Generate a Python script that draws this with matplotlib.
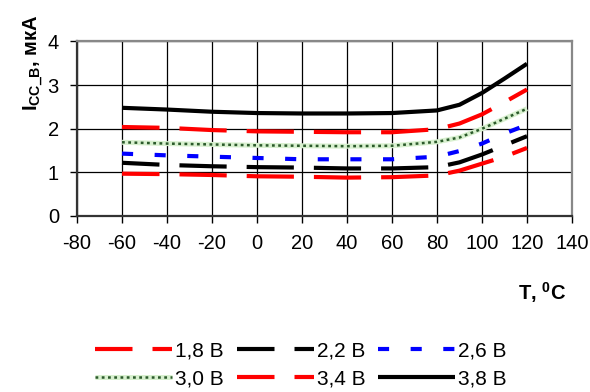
import matplotlib
matplotlib.use('Agg')
import matplotlib.pyplot as plt
from matplotlib.legend_handler import HandlerTuple

plt.rcParams['font.family'] = ['Liberation Sans', 'DejaVu Sans']
plt.rcParams['mathtext.fontset'] = 'custom'
plt.rcParams['mathtext.rm'] = 'Liberation Sans'
plt.rcParams['mathtext.bf'] = 'Liberation Sans:bold'
plt.rcParams['lines.scale_dashes'] = False
plt.rcParams['axes.unicode_minus'] = False

# Data
temps = [-60, -40, -20, 0, 20, 40, 60, 80, 90, 100, 110, 120]
i_18 = [0.97, 0.96, 0.94, 0.91, 0.90, 0.88, 0.89, 0.93, 1.04, 1.20, 1.36, 1.56]
i_22 = [1.22, 1.17, 1.14, 1.12, 1.11, 1.09, 1.09, 1.12, 1.23, 1.41, 1.62, 1.83]
i_26 = [1.43, 1.39, 1.36, 1.33, 1.30, 1.30, 1.30, 1.36, 1.49, 1.66, 1.89, 2.09]
i_30 = [1.69, 1.66, 1.64, 1.62, 1.61, 1.60, 1.61, 1.70, 1.80, 2.00, 2.23, 2.46]
i_34 = [2.04, 2.02, 1.97, 1.94, 1.93, 1.92, 1.92, 1.99, 2.12, 2.33, 2.61, 2.90]
i_38 = [2.48, 2.44, 2.39, 2.36, 2.35, 2.35, 2.36, 2.42, 2.55, 2.82, 3.15, 3.49]
labels = ['1,8 В', '2,2 В', '2,6 В', '3,0 В', '3,4 В', '3,8 В']

fig = plt.figure(figsize=(5.9, 3.92), dpi=100)
ax = fig.add_axes([77 / 590, 1 - 216 / 392, 495 / 590, 174.5 / 392])

lw = 3.0
long_dash = (7, (34, 14.4))
short_dash = (0, (8, 15.5))

l18, = ax.plot(temps, i_18, color='#ff0000', lw=lw, linestyle=long_dash)
l22, = ax.plot(temps, i_22, color='black', lw=lw, linestyle=long_dash)
l26, = ax.plot(temps, i_26, color='#0000ff', lw=lw, linestyle=short_dash)
l30a, = ax.plot(temps, i_30, color='#d8f0cf', lw=3.6, solid_capstyle='butt')
l30b, = ax.plot(temps, i_30, color='#2b5a2b', lw=1.8, linestyle=(0, (2, 2.5)))
l34, = ax.plot(temps, i_34, color='#ff0000', lw=lw, linestyle=long_dash)
l38, = ax.plot(temps, i_38, color='black', lw=lw, solid_capstyle='butt')

ax.set_xlim(-80, 140)
ax.set_ylim(0, 4)
ax.set_xticks(range(-80, 141, 20))
ax.set_yticks(range(0, 5))
ax.tick_params(labelsize=14.5, length=5, width=1, direction='out', pad=8)
ax.grid(True, color='black', lw=0.9)
ax.set_axisbelow(True)
for side in ['top', 'right']:
    ax.spines[side].set_color('#888888')
    ax.spines[side].set_linewidth(1.6)
for side in ['left', 'bottom']:
    ax.spines[side].set_color('#333333')
    ax.spines[side].set_linewidth(1.6)

fig.text(33 / 590, 1 - 63 / 392, r'$\mathbf{I_{CC\_B}}$, мкА', rotation=90,
         fontsize=14.5, fontweight='bold', ha='center', va='center')
fig.text(566 / 590, 1 - 293 / 392, r'T, $\mathbf{^0}$C', fontsize=14.5,
         fontweight='bold', ha='right', va='center')

# legend fills column by column, so reorder to get row-wise layout
handles = [l18, (l30a, l30b), l22, l34, l26, l38]
leg_labels = [labels[0], labels[3], labels[1], labels[4], labels[2], labels[5]]
fig.legend(handles, leg_labels, ncol=3, loc='center', bbox_to_anchor=(0.51, 0.069),
           frameon=False, fontsize=15, handlelength=3.7, handletextpad=0.15,
           columnspacing=0.6, labelspacing=0.45,
           handler_map={tuple: HandlerTuple(ndivide=1)})

fig.savefig('out.png', dpi=100)
